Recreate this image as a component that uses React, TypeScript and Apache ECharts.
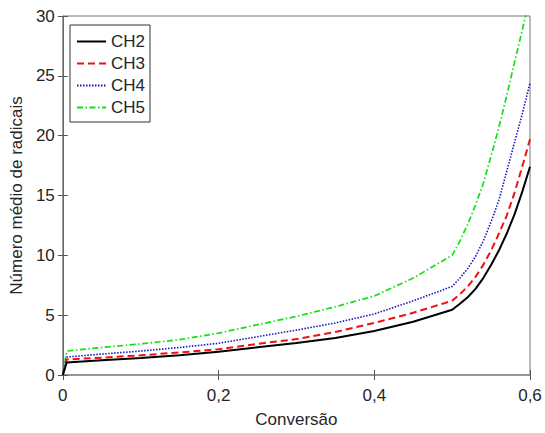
import React, { useEffect, useRef } from "react";
import * as echarts from "echarts";

const conversion = [0, 0.005, 0.05, 0.1, 0.15, 0.2, 0.25, 0.3, 0.35, 0.4, 0.45, 0.5, 0.51, 0.52, 0.53, 0.54, 0.55, 0.56, 0.57, 0.58, 0.59, 0.6];
const ch2 = [0, 1.05, 1.23, 1.43, 1.65, 1.95, 2.32, 2.68, 3.1, 3.67, 4.45, 5.45, 5.95, 6.5, 7.2, 8.1, 9.2, 10.4, 11.8, 13.4, 15.3, 17.4];
const ch3 = [0, 1.3, 1.45, 1.65, 1.88, 2.15, 2.6, 3.0, 3.6, 4.35, 5.2, 6.2, 6.75, 7.4, 8.2, 9.2, 10.4, 11.8, 13.3, 15.2, 17.4, 19.7];
const ch4 = [0, 1.5, 1.75, 2.0, 2.3, 2.65, 3.2, 3.75, 4.35, 5.1, 6.2, 7.4, 8.1, 8.9, 9.9, 11.2, 12.8, 14.6, 17.0, 19.4, 21.8, 24.4];
const ch5 = [0, 2.0, 2.3, 2.6, 2.95, 3.5, 4.2, 4.9, 5.7, 6.6, 8.1, 10.0, 11.2, 12.6, 14.2, 16.0, 18.3, 20.7, 23.3, 26.1, 28.8, 31.6];
const seriesNames = ["CH2", "CH3", "CH4", "CH5"];
const xTickLabels: Record<string, string> = { "0": "0", "0.2": "0,2", "0.4": "0,4", "0.6": "0,6" };

const FONT = "'Liberation Sans', Arial, sans-serif";
const TEXT = "#262626";

export default function App() {
  const ref = useRef<HTMLDivElement>(null);
  useEffect(() => {
    if (!ref.current) return;
    const chart = echarts.init(ref.current, undefined, { renderer: "svg" });
    const pairs = (ys: number[]) => conversion.map((x, i) => [x, ys[i]]);
    const styles = [
      { color: "#000000", width: 2, type: "solid" as any },
      { color: "#ee1111", width: 2, type: [7, 4] as any },
      { color: "#1515c0", width: 1.6, type: [1.5, 1.5] as any },
      { color: "#11e011", width: 1.7, type: [6, 2.5, 1.5, 2.5] as any },
    ];
    const datasets = [ch2, ch3, ch4, ch5];
    const tickCommon = { show: true, inside: true, length: 5, lineStyle: { color: "#555", width: 1 } };
    chart.setOption({
      animation: false,
      textStyle: { fontFamily: FONT },
      grid: {
        left: 60, right: 15, top: 16, bottom: 55,
        show: true, borderColor: "#777", borderWidth: 1, backgroundColor: "#fff",
      },
      legend: {
        data: seriesNames,
        orient: "vertical",
        left: 70,
        top: 25,
        backgroundColor: "#fff",
        borderColor: "#333",
        borderWidth: 1,
        borderRadius: 0,
        padding: [8, 5, 6, 6],
        itemGap: 5,
        itemWidth: 29,
        itemHeight: 14,
        itemStyle: { opacity: 0 },
        textStyle: { fontSize: 17, color: TEXT, fontFamily: FONT, lineHeight: 17 },
      },
      xAxis: [
        {
          type: "value", min: 0, max: 0.6, interval: 0.2,
          name: "Conversão", nameLocation: "middle", nameGap: 36,
          nameTextStyle: { fontSize: 17, color: TEXT, fontFamily: FONT },
          axisLine: { show: true, lineStyle: { color: "#8a8a8a", width: 1.5 } },
          axisTick: tickCommon,
          axisLabel: {
            fontSize: 17, color: TEXT, margin: 12, fontFamily: FONT,
            formatter: (v: number) => xTickLabels[String(Math.round(v * 10) / 10)] ?? String(v).replace(".", ","),
          },
          splitLine: { show: false },
        },
        {
          type: "value", min: 0, max: 0.6, interval: 0.2, position: "top",
          axisLine: { show: false },
          axisTick: tickCommon,
          axisLabel: { show: false },
          splitLine: { show: false },
        },
      ],
      yAxis: [
        {
          type: "value", min: 0, max: 30, interval: 5,
          name: "Número médio de radicais", nameLocation: "middle", nameGap: 34,
          nameTextStyle: { fontSize: 17, color: TEXT, fontFamily: FONT },
          axisLine: { show: true, lineStyle: { color: "#666", width: 1 } },
          axisTick: tickCommon,
          axisLabel: { fontSize: 17, color: TEXT, margin: 8, fontFamily: FONT },
          splitLine: { show: false },
        },
        {
          type: "value", min: 0, max: 30, interval: 5, position: "right",
          axisLine: { show: false },
          axisTick: tickCommon,
          axisLabel: { show: false },
          splitLine: { show: false },
        },
      ],
      series: datasets.map((ys, i) => ({
        name: seriesNames[i],
        type: "line",
        xAxisIndex: 0,
        yAxisIndex: 0,
        data: pairs(ys),
        symbol: "none",
        showSymbol: false,
        clip: true,
        smooth: false,
        color: styles[i].color,
        lineStyle: styles[i],
        z: 10 - i,
      })),
    });
    return () => chart.dispose();
  }, []);
  return (
    <div
      ref={ref}
      style={{ position: "fixed", left: 0, top: 0, width: 545, height: 433, background: "#fff" }}
    />
  );
}
